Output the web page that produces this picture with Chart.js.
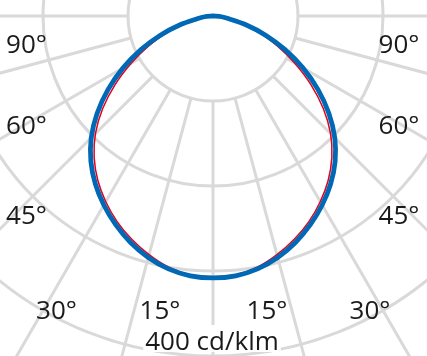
<!DOCTYPE html>
<html>
<head>
<meta charset="utf-8">
<script src="https://cdn.jsdelivr.net/npm/chart.js@4"></script>
<style>
html,body{margin:0;padding:0;background:#fff;overflow:hidden}
canvas{display:block}
</style>
</head>
<body>
<canvas id="c" width="427" height="356"></canvas>
<script>
// ---- data ----
const angleStep = 5;                       // degrees between samples
const halfAngles = [0,5,10,15,20,25,30,35,40,45,50,55,60,65,70,75,80,85,90];
// C90/C270 plane (blue), cd/klm
const blueHalf = [308.2,306.8,302.1,294.1,283.5,270.9,256.8,241.2,223.5,202.6,177.9,150.6,122.1,93.5,65.9,40,19,10,0];
// C0/C180 plane (red), cd/klm
const redHalf  = [308.2,305.8,300.1,290.6,279.5,266.9,252.3,236.2,217.5,195.6,169.4,140.6,111.1,83.5,58.9,37,19,10,0];
const ringValues = [100,200,300,400];
const gridAngles = [-90,-75,-60,-45,-30,-15,0,15,30,45,60,75,90];
const angleLabels = ['90°','60°','45°','30°','15°','15°','30°','45°','60°','90°'];
const scaleLabel = '400 cd/klm';

// ---- layout / style ----
const labelPos = [[26.5,53],[26.5,134],[26.5,224],[56.5,319],[160,319],[267,319],[370,319],[399,224],[399,134],[399,53]];
const scaleLabelPos = [212,350];
const gridColor = '#d9d9d9';
const textColor = '#1a1a1a';
const font = '26px "Open Sans"';

// full 360° ring of samples (index 0 = nadir, going clockwise toward the left)
const fullLabels = [];
const toFull = half => {
  const out = [];
  for (let a = 0; a < 360; a += angleStep) {
    if (a <= 90) out.push(half[halfAngles.indexOf(a)]);
    else if (a >= 270) out.push(half[halfAngles.indexOf(360 - a)]);
    else out.push(0);
  }
  return out;
};
for (let a = 0; a < 360; a += angleStep) fullLabels.push(a + '°');

const polarDecor = {
  id: 'polarDecor',
  beforeDatasetsDraw(chart) {
    const s = chart.scales.r, ctx = chart.ctx;
    ctx.save();
    ctx.strokeStyle = gridColor;
    ctx.lineWidth = 3;
    gridAngles.forEach(a => {
      const idx = ((a + 360) % 360) / angleStep;
      const p0 = s.getPointPositionForValue(idx, ringValues[0]);
      const p1 = s.getPointPositionForValue(idx, 900);
      ctx.beginPath();
      ctx.moveTo(p0.x, p0.y);
      ctx.lineTo(p1.x, p1.y);
      ctx.stroke();
    });
    ctx.restore();
  },
  afterDraw(chart) {
    const ctx = chart.ctx;
    ctx.save();
    ctx.font = font;
    ctx.textAlign = 'center';
    ctx.textBaseline = 'alphabetic';
    ctx.fillStyle = textColor;
    angleLabels.forEach((t, i) => ctx.fillText(t, labelPos[i][0], labelPos[i][1]));
    const w = ctx.measureText(scaleLabel).width;
    ctx.fillStyle = '#fff';
    ctx.fillRect(scaleLabelPos[0] - w / 2 - 2, scaleLabelPos[1] - 25, w + 4, 27);
    ctx.fillStyle = textColor;
    ctx.fillText(scaleLabel, scaleLabelPos[0], scaleLabelPos[1]);
    ctx.restore();
  }
};

new Chart(document.getElementById('c'), {
  type: 'radar',
  data: {
    labels: fullLabels,
    datasets: [
      { label: 'C90/C270', data: toFull(blueHalf), borderColor: '#0068b4', borderWidth: 4.8, fill: false, pointRadius: 0 },
      { label: 'C0/C180', data: toFull(redHalf), borderColor: '#e3001b', borderWidth: 1.5, fill: false, pointRadius: 0 }
    ]
  },
  options: {
    responsive: false,
    animation: false,
    devicePixelRatio: 1,
    layout: { padding: 0 },
    elements: { line: { tension: 0.3, borderJoinStyle: 'round' }, point: { radius: 0 } },
    plugins: { legend: { display: false }, tooltip: { enabled: false } },
    scales: {
      r: {
        min: 0, max: 400,
        startAngle: 180,
        ticks: { display: false, stepSize: 100 },
        pointLabels: { display: false },
        angleLines: { display: false },
        grid: { circular: true, color: gridColor, lineWidth: 3 },
        afterFit(scale) { scale.xCenter = 213; scale.yCenter = 16; scale.drawingArea = 340; }
      }
    }
  },
  plugins: [polarDecor]
});
</script>
</body>
</html>
